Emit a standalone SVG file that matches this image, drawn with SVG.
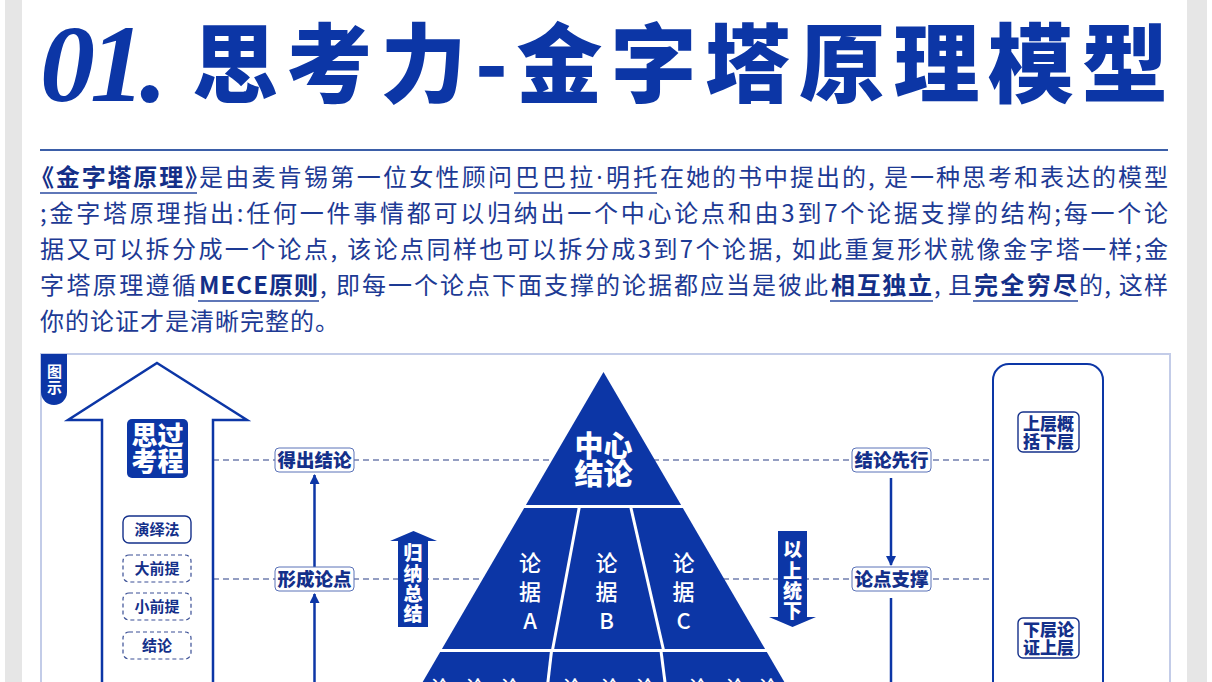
<svg xmlns="http://www.w3.org/2000/svg" width="1212" height="682" viewBox="0 0 1212 682">
  <style>
    .cjk { font-family: "Noto Sans CJK SC", "Noto Sans", sans-serif; }
    .para { font-family: "Noto Sans CJK SC", "Noto Sans", sans-serif; font-size: 24px; fill: #1d3a94; }
    .b { font-weight: 700; fill: #142f88; }
    .ul { stroke: #2a4aa0; stroke-width: 1.5; }
    .lbl { fill: #ffffff; stroke: #5a72b8; stroke-width: 1; }
    .lbltxt { font-family: "Noto Sans CJK SC", sans-serif; font-size: 18.5px; font-weight: 900; fill: #14308a; text-anchor: middle; }
    .small { font-family: "Noto Sans CJK SC", sans-serif; font-size: 15px; font-weight: 700; fill: #14308a; text-anchor: middle; }
    .solidbox { fill: #ffffff; stroke: #14308a; stroke-width: 1.4; }
    .dashbox { fill: #ffffff; stroke: #3a4f95; stroke-width: 1.2; stroke-dasharray: 4 3; }
    .wt { fill: #ffffff; text-anchor: middle; font-family: "Noto Sans CJK SC", sans-serif; }
    .blue { fill: #0c36a6; }
    .dash { stroke: #2a3f85; stroke-width: 1.2; stroke-dasharray: 6 4; fill: none; }
    .conn { stroke: #0c36a6; stroke-width: 2.5; fill: none; }
    .sep { stroke: #ffffff; stroke-width: 3; fill: none; }
    .dot { font-family: "Noto Sans", sans-serif; }
  </style>
  <defs>
    <marker id="ah" viewBox="0 0 10 10" refX="9" refY="5" markerWidth="4" markerHeight="4" orient="auto-start-reverse" markerUnits="strokeWidth">
      <path d="M0,0 L10,5 L0,10 Z" fill="#0c36a6"/>
    </marker>
  </defs>

  <rect x="0" y="0" width="1212" height="682" fill="#ffffff"/>
  <rect x="5" y="0" width="17" height="682" fill="#e6e6e6"/>
  <rect x="1187" y="0" width="20" height="682" fill="#e6e6e6"/>

  <g id="title">
    <text x="40" y="101" font-family="Liberation Serif, serif" font-style="italic" font-weight="700" font-size="110" letter-spacing="-5" fill="#0c36a6">01.</text>
    <text x="192" y="96" class="cjk" font-size="86" font-weight="900" fill="#0c36a6" textLength="976" lengthAdjust="spacing">思考力-金字塔原理模型</text>
    <line x1="40" y1="150" x2="1168" y2="150" stroke="#3b5ea8" stroke-width="2"/>
  </g>

  <g id="paragraph">
    <text class="para b" x="30" y="186" textLength="179" lengthAdjust="spacing">《金字塔原理》</text>
    <text class="para" x="199" y="186" textLength="313" lengthAdjust="spacing">是由麦肯锡第一位女性顾问</text>
    <text class="para" x="515" y="186" textLength="142" lengthAdjust="spacing">巴巴拉<tspan class="dot">·</tspan>明托</text>
    <text class="para" x="660" y="186" textLength="508" lengthAdjust="spacing">在她的书中提出的, 是一种思考和表达的模型</text>

    <text class="para" x="40" y="222" textLength="1128" lengthAdjust="spacing">;金字塔原理指出:任何一件事情都可以归纳出一个中心论点和由3到7个论据支撑的结构;每一个论</text>
    <text class="para" x="40" y="258" textLength="1128" lengthAdjust="spacing">据又可以拆分成一个论点, 该论点同样也可以拆分成3到7个论据, 如此重复形状就像金字塔一样;金</text>

    <text class="para" x="40" y="294" textLength="156" lengthAdjust="spacing">字塔原理遵循</text>
    <text class="para b" x="199" y="294" textLength="119" lengthAdjust="spacing">MECE原则</text>
    <text class="para" x="320" y="294" textLength="508" lengthAdjust="spacing">, 即每一个论点下面支撑的论据都应当是彼此</text>
    <text class="para b" x="831" y="294" textLength="101" lengthAdjust="spacing">相互独立</text>
    <text class="para" x="934" y="294" textLength="38" lengthAdjust="spacing">, 且</text>
    <text class="para b" x="974" y="294" textLength="103" lengthAdjust="spacing">完全穷尽</text>
    <text class="para" x="1079" y="294" textLength="89" lengthAdjust="spacing">的, 这样</text>

    <text class="para" x="40" y="330" letter-spacing="1">你的论证才是清晰完整的。</text>

    <line class="ul" x1="40" y1="193" x2="197" y2="193"/>
    <line class="ul" x1="514" y1="193" x2="657" y2="193"/>
    <line class="ul" x1="198" y1="301" x2="319" y2="301"/>
    <line class="ul" x1="830" y1="301" x2="933" y2="301"/>
    <line class="ul" x1="973" y1="301" x2="1078" y2="301"/>
  </g>

  <g id="frame">
    <rect x="41" y="354" width="1129" height="420" fill="#ffffff" stroke="#c3cce8" stroke-width="2"/>
    <path d="M41,354 H67 V392 A13,13 0 0 1 41,392 Z" class="blue"/>
    <text class="wt" x="54.5" y="377" font-size="15" font-weight="700">图</text>
    <text class="wt" x="54.5" y="393" font-size="15" font-weight="700">示</text>
  </g>

  <g id="connectors">
    <line class="dash" x1="213" y1="460" x2="993" y2="460"/>
    <line class="dash" x1="213" y1="579" x2="993" y2="579"/>
    <line class="conn" x1="314.5" y1="567" x2="314.5" y2="475" marker-end="url(#ah)"/>
    <line class="conn" x1="314.5" y1="700" x2="314.5" y2="594" marker-end="url(#ah)"/>
    <line class="conn" x1="891" y1="478" x2="891" y2="565" marker-end="url(#ah)"/>
    <line class="conn" x1="891" y1="598" x2="891" y2="700"/>
  </g>

  <g id="thinking-arrow">
    <polygon points="157,363 247,420 213,420 213,700 102,700 102,420 68,420" fill="#ffffff" stroke="#0c36a6" stroke-width="2.5" stroke-linejoin="miter"/>
  </g>

  <g id="thinking-process">
    <rect x="127" y="419" width="61" height="59" rx="5" class="blue"/>
    <text class="wt" x="157.5" y="445" font-size="26" font-weight="900">思过</text>
    <text class="wt" x="157.5" y="471" font-size="26" font-weight="900">考程</text>
  </g>

  <g id="deduction">
    <rect x="123" y="516" width="68" height="27" rx="6" class="solidbox"/>
    <text class="small" x="157" y="535">演绎法</text>
  </g>
  <g id="major-premise">
    <rect x="123" y="555" width="68" height="27" rx="6" class="dashbox"/>
    <text class="small" x="157" y="574">大前提</text>
  </g>
  <g id="minor-premise">
    <rect x="123" y="593" width="68" height="27" rx="6" class="dashbox"/>
    <text class="small" x="157" y="612">小前提</text>
  </g>
  <g id="conclusion-step">
    <rect x="123" y="632" width="68" height="27" rx="6" class="dashbox"/>
    <text class="small" x="157" y="651">结论</text>
  </g>

  <g id="label-draw-conclusion">
    <rect x="275" y="448" width="79" height="24" rx="4" class="lbl"/>
    <text class="lbltxt" x="314.5" y="467">得出结论</text>
  </g>
  <g id="label-form-point">
    <rect x="275" y="567" width="79" height="24" rx="4" class="lbl"/>
    <text class="lbltxt" x="314.5" y="586">形成论点</text>
  </g>
  <g id="label-conclusion-first">
    <rect x="852" y="448" width="79" height="24" rx="4" class="lbl"/>
    <text class="lbltxt" x="891.5" y="467">结论先行</text>
  </g>
  <g id="label-point-support">
    <rect x="852" y="567" width="79" height="24" rx="4" class="lbl"/>
    <text class="lbltxt" x="891.5" y="586">论点支撑</text>
  </g>

  <g id="induction-arrow">
    <polygon points="413.5,531 437,541 428,541 428,627 398,627 398,541 390,541" class="blue"/>
    <text class="wt" x="413" y="560" font-size="19" font-weight="900">归</text>
    <text class="wt" x="413" y="580.5" font-size="19" font-weight="900">纳</text>
    <text class="wt" x="413" y="601" font-size="19" font-weight="900">总</text>
    <text class="wt" x="413" y="621" font-size="19" font-weight="900">结</text>
  </g>

  <g id="topdown-arrow">
    <polygon points="778,531 807,531 807,617 816,617 792.5,627 769,617 778,617" class="blue"/>
    <text class="wt" x="792.5" y="557" font-size="19" font-weight="900">以</text>
    <text class="wt" x="792.5" y="578" font-size="19" font-weight="900">上</text>
    <text class="wt" x="792.5" y="598" font-size="19" font-weight="900">统</text>
    <text class="wt" x="792.5" y="618" font-size="19" font-weight="900">下</text>
  </g>

  <g id="pyramid">
    <polygon points="603.5,372 789,690 418,690" class="blue"/>
    <line class="sep" x1="400" y1="506.5" x2="800" y2="506.5"/>
    <line class="sep" x1="400" y1="650.5" x2="800" y2="650.5"/>
    <line class="sep" x1="579.5" y1="506" x2="552.5" y2="650"/>
    <line class="sep" x1="630.5" y1="506" x2="663.5" y2="650"/>
    <line class="sep" x1="551.5" y1="651" x2="547" y2="690"/>
    <line class="sep" x1="661" y1="651" x2="666" y2="690"/>
    <text class="wt" x="603.5" y="457" font-size="29" font-weight="900">中心</text>
    <text class="wt" x="603.5" y="485" font-size="29" font-weight="900">结论</text>
    <g font-size="22" font-weight="500">
      <text class="wt" x="530" y="571">论</text>
      <text class="wt" x="530" y="600">据</text>
      <text class="wt" x="530" y="629">A</text>
      <text class="wt" x="606.5" y="571">论</text>
      <text class="wt" x="606.5" y="600">据</text>
      <text class="wt" x="606.5" y="629">B</text>
      <text class="wt" x="683.5" y="571">论</text>
      <text class="wt" x="683.5" y="600">据</text>
      <text class="wt" x="683.5" y="629">C</text>
    </g>
    <g font-size="18" font-weight="500">
      <text class="wt" x="440" y="694">论</text>
      <text class="wt" x="475" y="694">论</text>
      <text class="wt" x="510" y="694">论</text>
      <text class="wt" x="572" y="694">论</text>
      <text class="wt" x="610" y="694">论</text>
      <text class="wt" x="645" y="694">论</text>
      <text class="wt" x="698" y="694">论</text>
      <text class="wt" x="735" y="694">论</text>
      <text class="wt" x="768" y="694">论</text>
    </g>
  </g>

  <g id="layer-box">
    <rect x="993" y="364" width="110" height="420" rx="16" fill="none" stroke="#0c36a6" stroke-width="2"/>
  </g>
  <g id="upper-summarizes">
    <rect x="1018" y="412" width="61" height="40" rx="5" class="solidbox"/>
    <text class="cjk" x="1048.5" y="430" font-size="17" font-weight="900" fill="#14308a" text-anchor="middle">上层概</text>
    <text class="cjk" x="1048.5" y="447.5" font-size="17" font-weight="900" fill="#14308a" text-anchor="middle">括下层</text>
  </g>
  <g id="lower-proves">
    <rect x="1018" y="618" width="61" height="40" rx="5" class="solidbox"/>
    <text class="cjk" x="1048.5" y="636" font-size="17" font-weight="900" fill="#14308a" text-anchor="middle">下层论</text>
    <text class="cjk" x="1048.5" y="653.5" font-size="17" font-weight="900" fill="#14308a" text-anchor="middle">证上层</text>
  </g>
</svg>
